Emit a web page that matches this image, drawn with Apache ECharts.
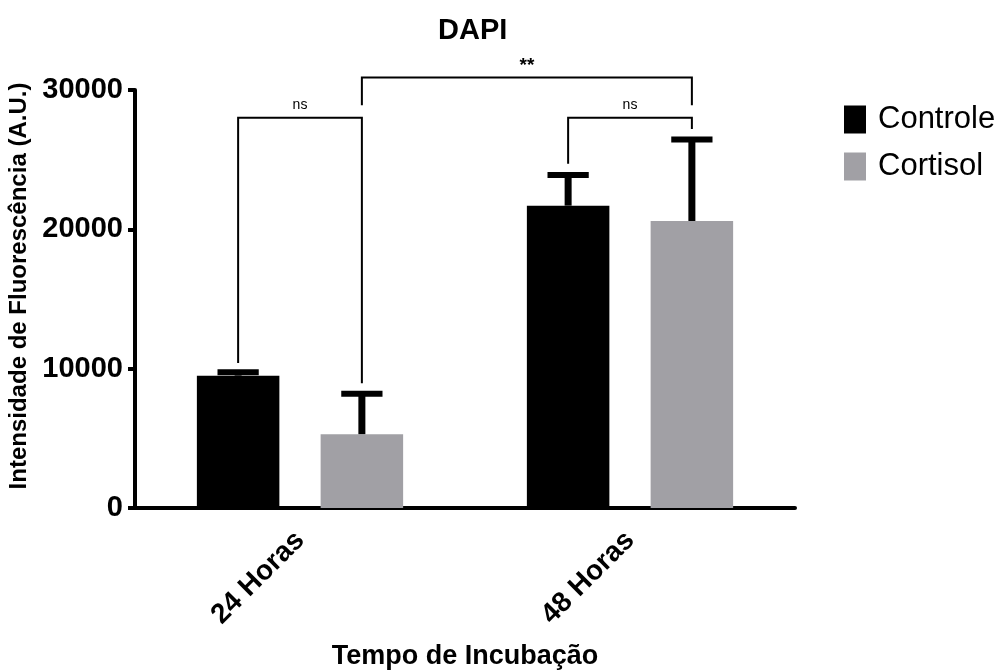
<!DOCTYPE html>
<html lang="pt">
<head>
<meta charset="UTF-8">
<title>DAPI</title>
<script src="https://cdn.jsdelivr.net/npm/echarts@6/dist/echarts.min.js"></script>
<style>
  html, body { margin: 0; padding: 0; background: #fff; }
  #main { width: 1005px; height: 670px; }
</style>
</head>
<body>
<div id="main"></div>
<script>
// dados
var categorias = ['24 Horas', '48 Horas'];
var grupos = ['Controle', 'Cortisol'];
var controle = [9500, 21700];
var cortisol = [5300, 20600];
var controleSD = [250, 2200];
var cortisolSD = [2900, 5850];
var yTicks = [0, 10000, 20000, 30000];

// comparacoes: [categoria1, grupo1, categoria2, grupo2, perna1, perna2, topo]
var comparacoes = [
    [0, 0, 0, 1, 10400, 8950, 28000],
    [1, 0, 1, 1, 24700, 27200, 28000],
    [0, 1, 1, 1, 28900, 28900, 30900]
];
var rotulos = ['ns', 'ns', '**'];

var FONT = 'Liberation Sans, Arial, Helvetica, sans-serif';
var cinza = '#a1a0a5';

function deslocamento(api, grupo) {
    var banda = api.size([1, 0])[0];
    return banda * 0.1875 * (grupo === 0 ? -1 : 1);
}

function erroItem(grupo) {
    return function (params, api) {
        var cat = api.value(0);
        var topo = api.value(1);
        var sd = api.value(2);
        var banda = api.size([1, 0])[0];
        var p0 = api.coord([cat, topo]);
        var p1 = api.coord([cat, topo + sd]);
        var x = p0[0] + deslocamento(api, grupo);
        var capW = banda * 0.125;
        return {
            type: 'group',
            children: [
                {type: 'rect', shape: {x: x - 3.5, y: p1[1], width: 7, height: p0[1] - p1[1]},
                 style: {fill: '#000'}},
                {type: 'rect', shape: {x: x - capW / 2, y: p1[1] - 3, width: capW, height: 6},
                 style: {fill: '#000'}}
            ]
        };
    };
}

function chaveItem(params, api) {
    var c = comparacoes[params.dataIndex];
    var a = api.coord([c[0], c[4]]);
    var b = api.coord([c[2], c[5]]);
    var t = api.coord([c[0], c[6]]);
    var xa = a[0] + deslocamento(api, c[1]);
    var xb = b[0] + deslocamento(api, c[3]);
    var estrela = rotulos[params.dataIndex] === '**';
    return {
        type: 'group',
        children: [
            {type: 'polyline', shape: {points: [[xa, a[1]], [xa, t[1]], [xb, t[1]], [xb, b[1]]]},
             style: {stroke: '#000', lineWidth: 2, fill: null}},
            {type: 'text', x: (xa + xb) / 2, y: t[1] - (estrela ? 2 : 6),
             style: {text: rotulos[params.dataIndex], fill: '#000', align: 'center', verticalAlign: 'bottom',
                     font: (estrela ? 'bold 19px ' : '14px ') + FONT}}
        ]
    };
}

var myChart = echarts.init(document.getElementById('main'));
var option = {
    animation: false,
    title: {
        text: 'DAPI',
        left: 433,
        top: 11,
        textStyle: {fontFamily: FONT, fontWeight: 'bold', fontSize: 29, color: '#000'}
    },
    legend: {
        data: grupos,
        orient: 'vertical',
        left: 839,
        top: 99,
        itemWidth: 22,
        itemHeight: 28,
        itemGap: 16,
        icon: 'rect',
        textStyle: {fontFamily: FONT, fontSize: 31, color: '#000', padding: [0, 0, 0, 7]}
    },
    grid: {left: 135, right: 210, top: 90, bottom: 162, containLabel: false, outerBoundsMode: 'none'},
    xAxis: {
        type: 'category',
        data: categorias,
        name: 'Tempo de Incubação',
        nameLocation: 'middle',
        nameGap: 135,
        nameTextStyle: {fontFamily: FONT, fontWeight: 'bold', fontSize: 27, color: '#000'},
        axisLine: {lineStyle: {color: '#000', width: 4}},
        axisTick: {alignWithLabel: true, length: 7, lineStyle: {width: 4, color: '#000'}},
        axisLabel: {rotate: 45, margin: 28, fontFamily: FONT, fontWeight: 'bold', fontSize: 28, color: '#000'}
    },
    yAxis: {
        type: 'value',
        min: yTicks[0],
        max: yTicks[yTicks.length - 1],
        interval: 10000,
        name: 'Intensidade de Fluorescência (A.U.)',
        nameLocation: 'middle',
        nameGap: 100,
        nameTextStyle: {fontFamily: FONT, fontWeight: 'bold', fontSize: 24, color: '#000',
                        padding: [0, 0, 0, 26]},
        splitLine: {show: false},
        axisLine: {show: true, lineStyle: {color: '#000', width: 4}},
        axisTick: {show: true, length: 7, lineStyle: {width: 4, color: '#000'}},
        axisLabel: {margin: 12, fontFamily: FONT, fontWeight: 'bold', fontSize: 29, color: '#000',
                    formatter: function (v) { return String(v); }}
    },
    series: [
        {name: 'Controle', type: 'bar', data: controle, barWidth: '25%', barGap: '50%',
         itemStyle: {color: '#000'}, z: 2},
        {name: 'Cortisol', type: 'bar', data: cortisol, barWidth: '25%', barGap: '50%',
         itemStyle: {color: cinza}, z: 2},
        {type: 'custom', renderItem: erroItem(0), z: 3,
         data: controle.map(function (v, i) { return [i, v, controleSD[i]]; })},
        {type: 'custom', renderItem: erroItem(1), z: 3,
         data: cortisol.map(function (v, i) { return [i, v, cortisolSD[i]]; })},
        {type: 'custom', renderItem: chaveItem, z: 4, clip: false,
         data: comparacoes.map(function (c, i) { return [c[0], c[6]]; })}
    ]
};
myChart.setOption(option);
</script>
</body>
</html>
